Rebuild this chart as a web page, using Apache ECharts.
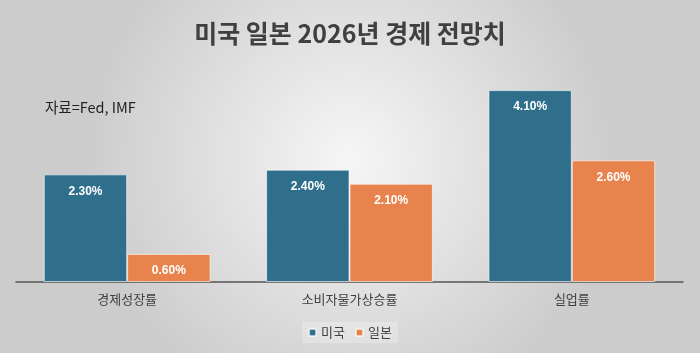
<!DOCTYPE html>
<html>
<head>
<meta charset="utf-8">
<script src="https://cdn.jsdelivr.net/npm/echarts@6/dist/echarts.min.js"></script>
<style>
  html, body { margin: 0; padding: 0; }
  #chart { width: 700px; height: 353px; }
</style>
</head>
<body>
<div id="chart"></div>
<script>
const categories = ['경제성장률', '소비자물가상승률', '실업률']
const usValues = [2.3, 2.4, 4.1]     // 미국
const jpValues = [0.6, 2.1, 2.6]     // 일본

const chart = echarts.init(document.getElementById('chart'))
const font = '"Noto Sans CJK KR", "Noto Sans", sans-serif'

const labelStyle = {
    show: true,
    position: 'insideTop',
    distance: 11,
    color: '#fff',
    fontWeight: 'bold',
    fontSize: 12,
    fontFamily: 'Liberation Sans, Arial, sans-serif',
    formatter: p => p.value.toFixed(2) + '%'
}

const option = {
    backgroundColor: new echarts.graphic.RadialGradient(0.5, 0.45, 0.75, [
        { offset: 0, color: '#f6f6f6' },
        { offset: 1, color: '#cccccc' }
    ]),
    textStyle: { fontFamily: font },
    title: {
        text: '미국 일본 2026년 경제 전망치',
        left: 'center',
        top: 16,
        textStyle: { fontSize: 25, fontWeight: 'bold', color: '#404040', fontFamily: font }
    },
    graphic: [{
        type: 'text',
        left: 45,
        top: 100,
        style: { text: '자료=Fed, IMF', fontSize: 14.5, fill: '#222', fontFamily: font }
    }],
    legend: {
        bottom: 10,
        left: 'center',
        itemWidth: 7,
        itemHeight: 7,
        itemGap: 10,
        padding: [4, 6],
        backgroundColor: 'rgba(255,255,255,0.25)',
        textStyle: { fontSize: 13, color: '#404040', fontFamily: font },
        data: ['미국', '일본']
    },
    grid: { left: 16, right: 17, top: 48, bottom: 71 },
    xAxis: {
        type: 'category',
        data: categories,
        axisLine: { lineStyle: { color: '#555', width: 1.5 } },
        axisTick: { show: false },
        axisLabel: { fontSize: 13, color: '#404040', margin: 11, fontFamily: font }
    },
    yAxis: {
        type: 'value',
        min: 0,
        max: 5,
        show: false,
        splitLine: { show: false }
    },
    series: [{
        name: '미국',
        type: 'bar',
        data: usValues,
        barGap: '0%',
        barCategoryGap: '25%',
        itemStyle: { color: '#2f6f8c', borderColor: 'rgba(255,255,255,0.6)', borderWidth: 1 },
        label: labelStyle
    }, {
        name: '일본',
        type: 'bar',
        data: jpValues,
        itemStyle: { color: '#e8834d', borderColor: 'rgba(255,255,255,0.6)', borderWidth: 1 },
        label: labelStyle
    }]
}
chart.setOption(option)
</script>
</body>
</html>
